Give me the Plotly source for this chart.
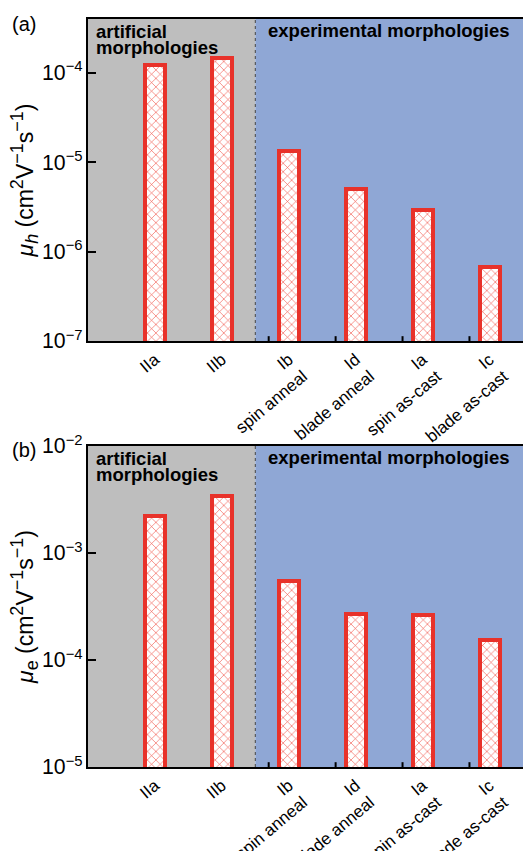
import math
import plotly.graph_objects as go

# Morphology categories (artificial first, then experimental)
artificial = ["IIa", "IIb"]
experimental = ["Ib", "Id", "Ia", "Ic"]
processing = ["spin anneal", "blade anneal", "spin as-cast", "blade as-cast"]

# Hole and electron mobilities (cm^2 V^-1 s^-1)
mu_h = [1.22e-4, 1.47e-4, 1.33e-5, 4.98e-6, 2.90e-6, 6.75e-7]
mu_e = [2.23e-3, 3.43e-3, 5.51e-4, 2.67e-4, 2.63e-4, 1.54e-4]

# Log ranges (decades) of the two mobility axes
h_range = [-7, -3.4]
e_range = [-5, -2]

FONT = "Arial"
RED = "#e8322a"
GRAY_BG = "#bebebe"
BLUE_BG = "#8fa7d5"

labels = artificial + [f"{c}<br>{p}" for c, p in zip(experimental, processing)]
xpos = list(range(1, len(labels) + 1))
split = len(artificial) + 0.5
xmax = len(labels) + 0.5
minor_x = [len(artificial) + 1 + i - 0.3 for i in range(len(experimental))]

fig = go.Figure()


def add_bars(values, xa, ya):
    fig.add_trace(go.Bar(
        x=xpos, y=values, xaxis=xa, yaxis=ya, width=0.30,
        marker=dict(
            color="white",
            line=dict(color=RED, width=4),
            pattern=dict(shape="x", fgcolor="#f0463a", bgcolor="white",
                         size=6, solidity=0.18, fillmode="replace"),
        ),
        showlegend=False,
    ))


add_bars(mu_h, "x", "y")
add_bars(mu_e, "x2", "y2")

xaxis_common = dict(
    range=[0, xmax], tickmode="array", tickvals=xpos, ticktext=labels,
    tickangle=-40, ticks="", automargin=False,
    showline=True, linecolor="black", linewidth=2, mirror=True,
    showgrid=False, zeroline=False,
    tickfont=dict(family=FONT, size=17, color="black"),
)


def sup(t, px):
    return f"<sup><span style='font-size:{px}px'>{t}</span></sup>"


def sub(t, px):
    return f"<sub><span style='font-size:{px}px'>{t}</span></sub>"


def yaxis_common(rng, dom, title):
    return dict(
        type="log", domain=dom, automargin=False, range=rng,
        dtick=1, exponentformat="power", showexponent="all",
        ticks="inside", ticklen=8, tickwidth=2, tickcolor="black",
        showline=True, linecolor="black", linewidth=2, mirror=False,
        showgrid=False, zeroline=False,
        tickfont=dict(family=FONT, size=17, color="black"),
        title=dict(text=title, font=dict(family=FONT, size=23, color="black"),
                   standoff=2),
    )


unit = "(cm" + sup("2", 18) + "V" + sup("\u22121", 18) + "s" + sup("\u22121", 18) + ")"
title_h = "<i>μ" + sub("h", 18) + "</i> " + unit
title_e = "<i>μ</i>" + sub("e", 18) + " " + unit

H = 851
top_a, bot_a = 19, 341
top_b, bot_b = 446, 767
dom_a = [1 - bot_a / H, 1 - top_a / H]
dom_b = [1 - bot_b / H, 1 - top_b / H]

fig.update_layout(
    width=523, height=851,
    margin=dict(l=88, r=0, t=0, b=0),
    paper_bgcolor="white", plot_bgcolor="white",
    bargap=0,
    xaxis=dict(**xaxis_common, anchor="y"),
    yaxis=yaxis_common(h_range, dom_a, title_h),
    xaxis2=dict(**xaxis_common, anchor="y2"),
    yaxis2=yaxis_common(e_range, dom_b, title_e),
)

shapes = []
annotations = []
for xr, yr, rng, ptop, pbot in [("x", "y", h_range, top_a, bot_a),
                                ("x2", "y2", e_range, top_b, bot_b)]:
    ydom = f"{yr} domain"
    xdom = f"{xr} domain"
    ph = pbot - ptop
    # region backgrounds
    shapes.append(dict(type="rect", xref=xr, yref=ydom, x0=0, x1=split, y0=0, y1=1,
                       fillcolor=GRAY_BG, line=dict(width=0), layer="below"))
    shapes.append(dict(type="rect", xref=xr, yref=ydom, x0=split, x1=xmax, y0=0, y1=1,
                       fillcolor=BLUE_BG, line=dict(width=0), layer="below"))
    # dotted divider
    shapes.append(dict(type="line", xref=xr, yref=ydom, x0=split, x1=split, y0=0, y1=1,
                       line=dict(color="#444444", width=1, dash="dot")))
    # small bottom ticks in the experimental region
    for mx in minor_x:
        shapes.append(dict(type="line", xref=xr, yref=ydom, x0=mx, x1=mx, y0=0, y1=0.015,
                           line=dict(color="black", width=2)))
    # minor log ticks on the left axis (2..9 within each decade)
    for dec in range(math.floor(rng[0]), math.ceil(rng[1])):
        for m in range(2, 10):
            ly = dec + math.log10(m)
            if rng[0] < ly < rng[1]:
                shapes.append(dict(type="line", xref=xdom, yref=yr, x0=0, x1=4 / 435,
                                   y0=ly, y1=ly, line=dict(color="black", width=1.5)))
    # region headings
    for line, off in [("artificial", 12), ("morphologies", 28)]:
        annotations.append(dict(xref=xr, yref=ydom, x=0, xshift=6, y=1 - off / ph,
                                xanchor="left", yanchor="middle", showarrow=False,
                                text=f"<b>{line}</b>",
                                font=dict(family=FONT, size=18.5, color="black")))
    annotations.append(dict(xref=xr, yref=ydom, x=(split + xmax) / 2, y=1 - 11 / ph,
                            xanchor="center", yanchor="middle", showarrow=False,
                            text="<b>experimental morphologies</b>",
                            font=dict(family=FONT, size=18.5, color="black")))

annotations.append(dict(xref="paper", yref="paper", x=-78 / 435, y=1 - 24 / H,
                        xanchor="left", yanchor="middle", showarrow=False, text="(a)",
                        font=dict(family=FONT, size=20, color="black")))
annotations.append(dict(xref="paper", yref="paper", x=-78 / 435, y=1 - 450 / H,
                        xanchor="left", yanchor="middle", showarrow=False, text="(b)",
                        font=dict(family=FONT, size=20, color="black")))

fig.update_layout(shapes=shapes, annotations=annotations)

fig.write_html("out.html")
